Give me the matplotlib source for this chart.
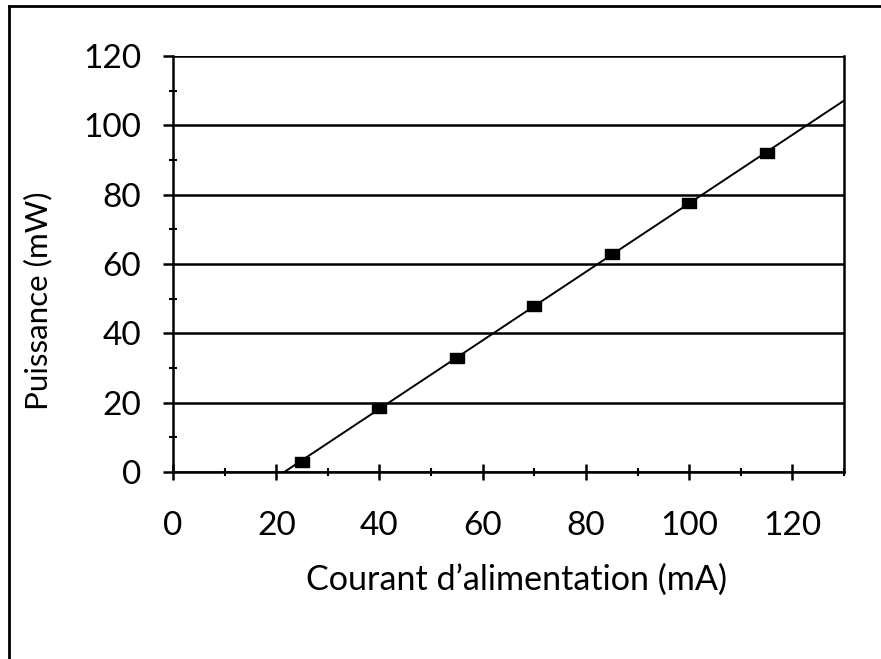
import numpy as np
import matplotlib
matplotlib.use('Agg')
import matplotlib.pyplot as plt
from matplotlib.lines import Line2D
from matplotlib.ticker import MultipleLocator

plt.rcParams['font.family'] = ['Lato', 'DejaVu Sans']

# courant (mA) et puissance mesuree (mW)
courant = [25, 40, 55, 70, 85, 100, 115]
puissance = [3, 18.5, 33, 48, 63, 77.5, 92]
x_ticks = [0, 20, 40, 60, 80, 100, 120]
y_ticks = [0, 20, 40, 60, 80, 100, 120]

fig = plt.figure(figsize=(8.81, 6.59), dpi=100)
ax = fig.add_axes([0.1964, 0.2838, 0.7616, 0.6312])

# droite de tendance (moindres carres)
a, b = np.polyfit(courant, puissance, 1)
x0 = -b / a
xs = np.array([x0, 130])
ax.plot(xs, a * xs + b, color='black', lw=1.4, zorder=3)

ax.plot(courant, puissance, linestyle='none', color='black',
        marker=[(-1.3, -1), (1.3, -1), (1.3, 1), (-1.3, 1), (-1.3, -1)],
        markersize=10, zorder=4)

ax.set_xlim(0, 130)
ax.set_ylim(0, 120)
ax.set_xticks(x_ticks)
ax.set_yticks(y_ticks)
ax.xaxis.set_minor_locator(MultipleLocator(10))
ax.yaxis.set_minor_locator(MultipleLocator(10))
ax.yaxis.grid(True, which='major', color='black', lw=1.8)
ax.set_axisbelow(True)

ax.tick_params(axis='x', which='major', direction='inout', length=12, width=1.8,
               labelsize=24, pad=22)
ax.tick_params(axis='x', which='minor', direction='inout', length=6, width=1.5)
ax.tick_params(axis='y', which='major', direction='out', length=7, width=1.8,
               labelsize=24, pad=16)
ax.tick_params(axis='y', which='minor', direction='inout', length=6, width=1.5)

for s in ax.spines.values():
    s.set_linewidth(1.8)
ax.spines['top'].set_visible(False)

fig.text(516 / 881, 1 - 580 / 659, "Courant d\u2019alimentation (mA)",
         fontsize=24.6, ha='center', va='center')
fig.text(38 / 881, 1 - 301 / 659, "Puissance (mW)", fontsize=22.6,
         rotation=90, ha='center', va='center')

# cadre de la page scannee
fig.add_artist(Line2D([0.0102, 1.0], [0.991, 0.991], color='black', lw=2,
                      transform=fig.transFigure))
fig.add_artist(Line2D([0.0102, 0.0102], [0.0, 0.991], color='black', lw=2,
                      transform=fig.transFigure))

fig.savefig('out.png', dpi=100)
